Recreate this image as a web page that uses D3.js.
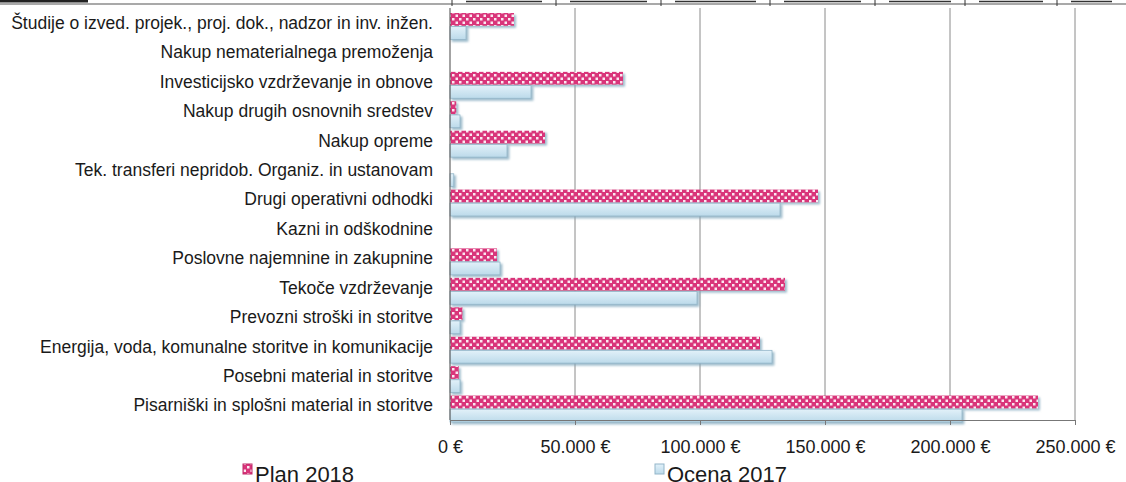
<!DOCTYPE html>
<html>
<head>
<meta charset="utf-8">
<script src="https://cdn.jsdelivr.net/npm/d3@7"></script>
<style>
  body { margin: 0; background: #fff; }
  svg { display: block; }
  text { font-family: "Liberation Sans Narrow", "Arial Narrow", "Liberation Sans", sans-serif; fill: #1a1a1a; }
</style>
</head>
<body>
<svg id="chart" width="1126" height="482"></svg>
<script>
// categories, top to bottom
var categories = [
  "Študije o izved. projek., proj. dok., nadzor in inv. inžen.",
  "Nakup nematerialnega premoženja",
  "Investicijsko vzdrževanje in obnove",
  "Nakup drugih osnovnih sredstev",
  "Nakup opreme",
  "Tek. transferi nepridob. Organiz. in ustanovam",
  "Drugi operativni odhodki",
  "Kazni in odškodnine",
  "Poslovne najemnine in zakupnine",
  "Tekoče vzdrževanje",
  "Prevozni stroški in storitve",
  "Energija, voda, komunalne storitve in komunikacije",
  "Posebni material in storitve",
  "Pisarniški in splošni material in storitve"
];

// values (EUR)
var plan2018 = [25600, 0, 69200, 2500, 38000, 0, 147200, 0, 18800, 134000, 5000, 124000, 3500, 235200];
var ocena2017 = [6400, 0, 32400, 4000, 22800, 1500, 132000, 0, 20000, 98800, 4000, 128800, 4000, 204800];

var seriesNames = ["Plan 2018", "Ocena 2017"];
var xTicks = [0, 50000, 100000, 150000, 200000, 250000];

var svg = d3.select("#chart");
var defs = svg.append("defs");

// checkered pink fill for Plan 2018
var pat = defs.append("pattern")
  .attr("id", "check")
  .attr("width", 7).attr("height", 7)
  .attr("patternUnits", "userSpaceOnUse");
pat.append("rect").attr("width", 7).attr("height", 7).attr("fill", "#d9347a");
pat.append("rect").attr("x", 0.5).attr("y", 0.5).attr("width", 2.5).attr("height", 2.5).attr("fill", "#fbe9f1");
pat.append("rect").attr("x", 4).attr("y", 4).attr("width", 2.5).attr("height", 2.5).attr("fill", "#fbe9f1");

var shadow = defs.append("filter").attr("id", "shadow")
  .attr("x", "-5%").attr("y", "-30%").attr("width", "115%").attr("height", "180%");
shadow.append("feDropShadow")
  .attr("dx", 2).attr("dy", 2).attr("stdDeviation", 1.2)
  .attr("flood-color", "#7fa6bb").attr("flood-opacity", 0.75);

var grad = defs.append("linearGradient").attr("id", "blue")
  .attr("x1", 0).attr("y1", 0).attr("x2", 0).attr("y2", 1);
grad.append("stop").attr("offset", "0%").attr("stop-color", "#e2f1f9");
grad.append("stop").attr("offset", "100%").attr("stop-color", "#bcdaea");

// plot area (don't call it "top", that's window.top)
var plotLeft = 450, plotRight = 1075, plotTop = 8, plotBottom = 420;

var x = d3.scaleLinear().domain([0, 250000]).range([plotLeft, plotRight]);
var y = d3.scaleBand().domain(categories).range([plotTop, plotBottom]);
var sub = d3.scaleBand().domain(seriesNames).range([5, y.bandwidth() + 2]).paddingInner(0.06);

var sl = d3.formatLocale({ decimal: ",", thousands: ".", grouping: [3], currency: ["", " €"] });
var fmt = sl.format("$,.0f");

// top table fragment of the scan
svg.append("line").attr("x1", 0).attr("x2", 1126).attr("y1", 4).attr("y2", 4)
  .attr("stroke", "#555").attr("stroke-width", 1.2);
svg.append("line").attr("x1", 0).attr("x2", 88).attr("y1", 1).attr("y2", 1)
  .attr("stroke", "#222").attr("stroke-width", 3);
var cellEdges = [452, 556, 661, 770, 875, 965, 1057, 1126];
svg.selectAll(".cellsep").data(cellEdges.slice(0, -1)).enter().append("line")
  .attr("x1", d => d).attr("x2", d => d).attr("y1", 0).attr("y2", 6)
  .attr("stroke", "#333");
svg.selectAll(".cellu").data(cellEdges.slice(0, -1)).enter().append("line")
  .attr("x1", d => d + 14).attr("x2", (d, i) => cellEdges[i + 1] - 14)
  .attr("y1", 1.5).attr("y2", 1.5).attr("stroke", "#333").attr("stroke-width", 1.5);

// gridlines
svg.append("g").selectAll("line").data(xTicks.slice(1)).enter().append("line")
  .attr("x1", d => x(d)).attr("x2", d => x(d))
  .attr("y1", plotTop).attr("y2", plotBottom)
  .attr("stroke", "#8a8a8a").attr("stroke-width", 1);

// bars
var rows = categories.map((c, i) => ({ cat: c, vals: [plan2018[i], ocena2017[i]] }));
var g = svg.append("g").attr("filter", "url(#shadow)");
rows.forEach(function(r) {
  g.selectAll(null).data(r.vals).enter().append("rect")
    .attr("x", x(0))
    .attr("y", (d, i) => y(r.cat) + sub(seriesNames[i]))
    .attr("width", d => Math.max(0, x(d) - x(0)))
    .attr("height", sub.bandwidth())
    .attr("fill", (d, i) => i === 0 ? "url(#check)" : "url(#blue)")
    .attr("stroke", (d, i) => i === 0 ? "none" : "#93b6c9")
    .attr("stroke-width", 0.8);
});

// category axis line
svg.append("line").attr("x1", x(0)).attr("x2", x(0)).attr("y1", plotTop).attr("y2", plotBottom)
  .attr("stroke", "#666").attr("stroke-width", 1.2);

// category labels
svg.append("g").selectAll("text").data(categories).enter().append("text")
  .attr("x", 433)
  .attr("y", d => y(d) + y.bandwidth() / 2)
  .attr("dy", "0.35em")
  .attr("text-anchor", "end")
  .style("font-size", "17.5px")
  .text(d => d);

// value axis
var xAxis = d3.axisBottom(x).tickValues(xTicks).tickFormat(fmt).tickSize(5).tickPadding(15);
var ax = svg.append("g").attr("transform", "translate(0," + plotBottom + ")").call(xAxis);
ax.select(".domain").attr("stroke", "#777");
ax.selectAll(".tick line").attr("stroke", "#777");
ax.selectAll(".tick text").style("font-size", "18px").attr("fill", "#1a1a1a");

// legend
var legendX = [243, 655];
var lg = svg.append("g").selectAll("g").data(seriesNames).enter().append("g")
  .attr("transform", (d, i) => "translate(" + legendX[i] + ",0)");
lg.append("rect").attr("x", 0).attr("y", 464).attr("width", 9).attr("height", 10)
  .attr("fill", (d, i) => i === 0 ? "url(#check)" : "url(#blue)")
  .attr("stroke", (d, i) => i === 0 ? "#c02a68" : "#93b6c9");
lg.append("text").attr("x", 12).attr("y", 482)
  .style("font-family", "'Liberation Sans', Arial, sans-serif")
  .style("font-size", "22px")
  .text(d => d);
</script>
</body>
</html>
